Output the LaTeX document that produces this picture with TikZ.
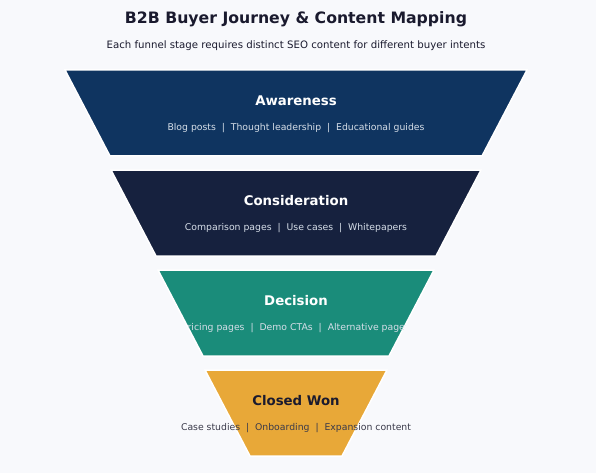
\documentclass[tikz,border=0pt]{standalone}
\usepackage{fontspec}
\setmainfont{DejaVu Sans}
\definecolor{bg}{HTML}{F8F9FC}
\definecolor{awc}{HTML}{0F3460}
\definecolor{coc}{HTML}{16213E}
\definecolor{dec}{HTML}{1A8C7A}
\definecolor{cwc}{HTML}{E8A838}
\definecolor{ink}{HTML}{1A1A2E}
\definecolor{subl}{HTML}{D6DEE8}
\definecolor{subd}{HTML}{3A3A4A}
\begin{document}
\begin{tikzpicture}[x=1pt,y=-1pt,
  stage/.style={draw=white,line width=1.5pt,line join=miter},
  ttl/.style={font=\bfseries\fontsize{13.3}{15}\selectfont},
  sub/.style={font=\fontsize{9.3}{11}\selectfont}]
\fill[bg] (0,0) rectangle (596,473);
\useasboundingbox (0,0) rectangle (596,473);
\node[font=\bfseries\fontsize{15.7}{18}\selectfont,text=ink] (title) at (296,19.5) {B2B Buyer Journey \& Content Mapping};
\node[font=\fontsize{10.2}{12}\selectfont,text=ink] (subtitle) at (296,45.5) {Each funnel stage requires distinct SEO content for different buyer intents};
% stages
\filldraw[stage,fill=awc] (65,70) -- (527,70) -- (482,156) -- (110,156) -- cycle;
\filldraw[stage,fill=coc] (111,170) -- (481,170) -- (436,256) -- (156,256) -- cycle;
\filldraw[stage,fill=dec] (158,270) -- (434,270) -- (389,356) -- (203,356) -- cycle;
\filldraw[stage,fill=cwc] (205,370) -- (387,370) -- (342,456) -- (250,456) -- cycle;
\node[ttl,text=white] (aw) at (296,101) {Awareness};
\node[sub,text=subl] (awsub) at (296,128) {Blog posts \ | \ Thought leadership \ | \ Educational guides};
\node[ttl,text=white] (co) at (296,201) {Consideration};
\node[sub,text=subl] (cosub) at (296,228) {Comparison pages \ | \ Use cases \ | \ Whitepapers};
\node[ttl,text=white] (de) at (296,301) {Decision};
\begin{scope}
\clip (158,270) -- (434,270) -- (389,356) -- (203,356) -- cycle;
\node[sub,text=subl] (desub) at (296,328) {Pricing pages \ | \ Demo CTAs \ | \ Alternative pages};
\end{scope}
\node[ttl,text=ink] (cw) at (296,401) {Closed Won};
\node[sub,text=subd] (cwsub) at (296,428) {Case studies \ | \ Onboarding \ | \ Expansion content};
\end{tikzpicture}
\end{document}
